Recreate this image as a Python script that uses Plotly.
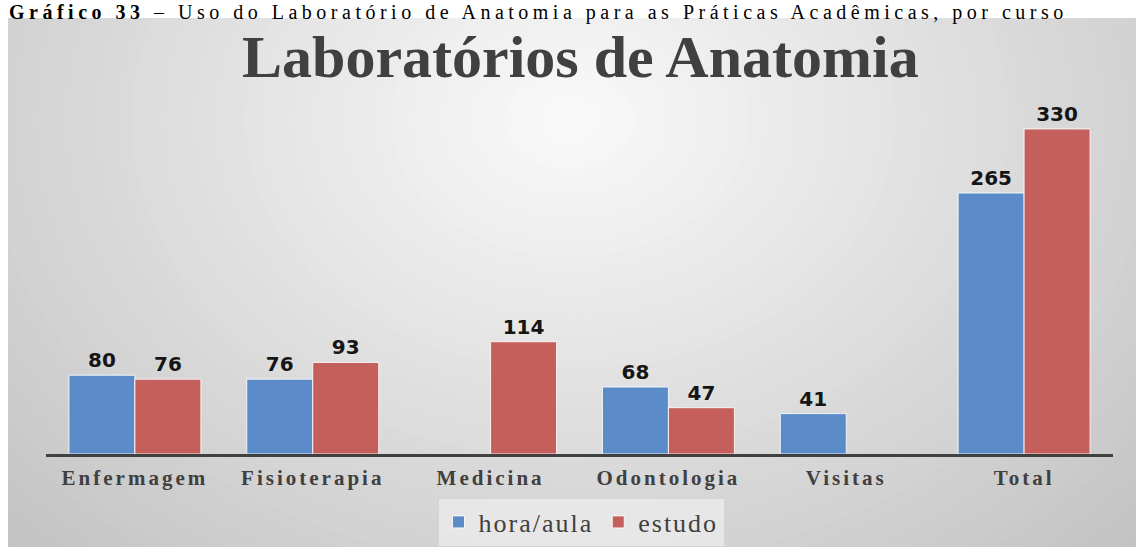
import plotly.graph_objects as go

# ---- data ----
categories = ["Enfermagem", "Fisioterapia", "Medicina", "Odontologia", "Visitas", "Total"]
hora_aula = [80, 76, None, 68, 41, 265]
estudo = [76, 93, 114, 47, None, 330]
series_names = ["hora/aula", "estudo"]
chart_title = "Laboratórios de Anatomia"
caption_bold = "Gráfico 33"
caption_rest = " – Uso do Laboratório de Anatomia para as Práticas Acadêmicas, por curso"

W, H = 1136, 547
BLUE = "#5b8bc8"
RED = "#c55f5c"


def px_x(x):
    return x / W


def px_y(y):
    return 1 - y / H


fig = go.Figure()

for name, vals, col in [(series_names[0], hora_aula, BLUE), (series_names[1], estudo, RED)]:
    fig.add_trace(go.Bar(
        x=categories, y=vals, name=f'<span style="letter-spacing:2px">{name}</span>',
        marker=dict(color=col, line=dict(color="rgba(255,255,255,0.85)", width=1)),
        texttemplate="%{y}", textposition="outside", cliponaxis=False,
        textfont=dict(family="DejaVu Sans", size=20, color="#151515", weight="bold"),
    ))

# background radial gradient (approximated with concentric ellipses)
shapes = []
cx, cy = 570, 120
steps = 56
for i in range(steps, 0, -1):
    r = i * 0.025
    g = int(round(250 - 45 * r))
    g = max(0, min(255, g))
    a, b = 650 * r, 500 * r
    shapes.append(dict(type="circle", xref="paper", yref="paper", layer="below",
                       x0=px_x(cx - a), x1=px_x(cx + a), y0=px_y(cy + b), y1=px_y(cy - b),
                       fillcolor=f"rgb({g},{g},{g})", line=dict(width=0)))
# white page outside the panel
shapes.append(dict(type="rect", xref="paper", yref="paper", layer="below",
                   x0=-0.5, x1=1.5, y0=px_y(18), y1=1.5, fillcolor="white", line=dict(width=0)))
shapes.append(dict(type="rect", xref="paper", yref="paper", layer="below",
                   x0=-0.5, x1=px_x(8), y0=-0.5, y1=1.5, fillcolor="white", line=dict(width=0)))

annotations = [
    dict(text=chart_title, xref="paper", yref="paper", x=px_x(580), y=px_y(57),
         xanchor="center", yanchor="middle", showarrow=False,
         font=dict(family="Liberation Serif", size=60, color="#404040", weight="bold")),
    dict(text=f'<span style="letter-spacing:4.5px"><b>{caption_bold}</b>{caption_rest}</span>',
         xref="paper", yref="paper",
         x=px_x(8), y=1, xanchor="left", yanchor="top", showarrow=False, borderpad=0,
         font=dict(family="Liberation Serif", size=20, color="black")),
]

fig.update_layout(
    width=W, height=H,
    margin=dict(l=0, r=0, t=0, b=0),
    paper_bgcolor="white", plot_bgcolor="rgba(0,0,0,0)",
    barmode="group", bargap=0.258, bargroupgap=0.0,
    shapes=shapes, annotations=annotations,
    showlegend=True,
    legend=dict(orientation="h", x=px_x(581), y=px_y(522), xanchor="center", yanchor="middle",
                bgcolor="rgba(245,245,245,0.55)", bordercolor="#d4d4d4", borderwidth=1,
                font=dict(family="Liberation Serif", size=26, color="#404040")),
    xaxis=dict(domain=[px_x(46), px_x(1113)], showline=True, linecolor="#404040", linewidth=3,
               ticks="", tickmode="array", tickvals=categories,
               ticktext=[f'<span style="letter-spacing:3px">{c}</span>' for c in categories],
               ticklabelstandoff=3,
               tickfont=dict(family="Liberation Serif", size=21, color="#404040", weight="bold"),
               showgrid=False, zeroline=False, fixedrange=True),
    yaxis=dict(domain=[px_y(454), px_y(95)], range=[0, 364.5], visible=False,
               showgrid=False, zeroline=False, fixedrange=True),
)

fig.write_html("out.html", post_script="document.body.style.margin='0px';",
               config={"displayModeBar": False})
